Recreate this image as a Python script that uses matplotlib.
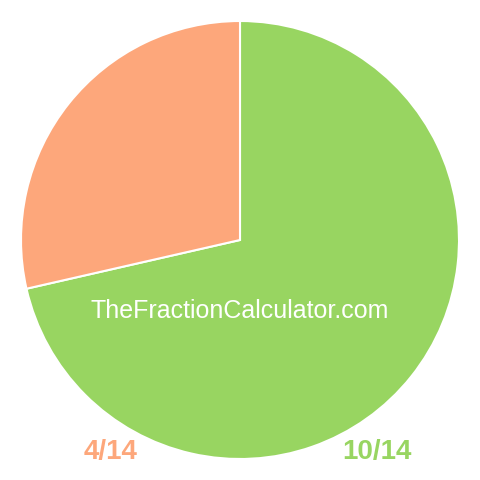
import matplotlib.pyplot as plt

labels = ["10/14", "4/14"]
values = [10, 4]
colors = ["#98D561", "#FDA77B"]
site = "TheFractionCalculator.com"

fig = plt.figure(figsize=(4.8, 4.8), dpi=100)
ax = fig.add_axes([0, 0, 1, 1])
ax.set_aspect("equal")
ax.axis("off")

ax.pie(values, colors=colors, startangle=90, counterclock=False,
       center=(240, 240), radius=219,
       wedgeprops=dict(edgecolor="white", linewidth=1.5))
ax.set_xlim(0, 480)
ax.set_ylim(0, 480)

ax.text(240, 168.5, site, color="white", fontsize=18,
        family="Liberation Sans", ha="center", va="center")

# labels below the pie
ax.text(377, 28, labels[0], color=colors[0], fontsize=20, fontweight="bold",
        family="Liberation Sans", ha="center", va="center")
ax.text(111, 28, labels[1], color=colors[1], fontsize=20, fontweight="bold",
        family="Liberation Sans", ha="center", va="center")

plt.savefig("out.png", dpi=100)
